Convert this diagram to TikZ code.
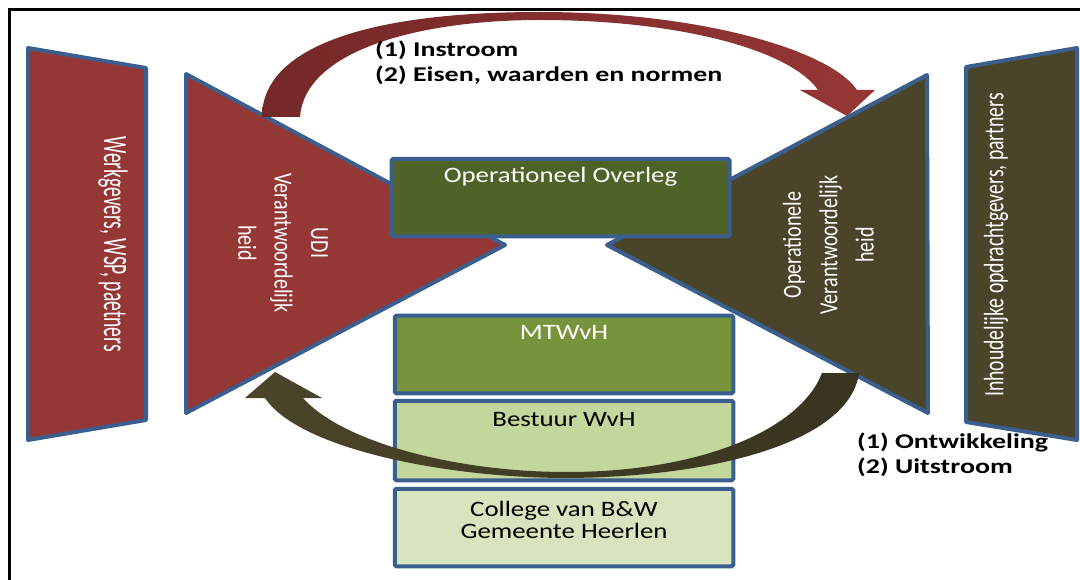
\documentclass[tikz,border=0pt]{standalone}
\usepackage{fontspec}
\setmainfont{Carlito}
\usepackage{graphicx}

\definecolor{randblauw}{HTML}{3A5F8E}
\definecolor{udirood}{HTML}{953735}
\definecolor{olijf}{HTML}{4A452A}
\definecolor{overleggroen}{HTML}{4F6228}
\definecolor{mtgroen}{HTML}{77933C}
\definecolor{bestuurgroen}{HTML}{C3D69B}
\definecolor{collegegroen}{HTML}{D7E4BD}
\definecolor{pijlroodd}{HTML}{742828}
\definecolor{pijlolijfd}{HTML}{38341F}

% horizontaal / verticaal uitrekken van tekst
\newcommand{\breed}[2]{\scalebox{#1}[1]{#2}}
\newcommand{\hoog}[2]{\scalebox{1}[#1]{#2}}

\begin{document}
\begin{tikzpicture}[x=1pt,y=-1pt,
    rand/.style={draw=randblauw, line width=4pt, line join=round},
    kader/.style={draw=randblauw, line width=4pt, rounded corners=1.5pt,
                  minimum width=338.5, minimum height=77.5, inner sep=0pt},
    boxtekst/.style={font=\fontsize{22}{22}\selectfont, inner sep=0pt},
    vettekst/.style={font=\fontsize{21}{24}\selectfont\bfseries, anchor=base west, inner sep=0pt}]
    \useasboundingbox (0,0) rectangle (1080,580);

    % kader
    \draw[line width=3pt] (1080,10) -- (9,10) -- (9,580);

    % buitenste vlakken
    \filldraw[rand, fill=udirood] (28,48) -- (146,68) -- (146,420) -- (28,440) -- cycle;
    \filldraw[rand, fill=olijf] (966,67) -- (1077,48) -- (1077,440) -- (966,422) -- cycle;

    % driehoeken
    \filldraw[rand, fill=udirood] (186,74) -- (505,245) -- (186,413) -- cycle;
    \filldraw[rand, fill=olijf] (927,75) -- (607,245) -- (928,413) -- cycle;

    % overleg en lagen in het midden
    \node[kader, fill=overleggroen, minimum width=338] (overleg) at (560.5,197.75) {};
    \node[kader, fill=mtgroen] (mtwvh) at (564,354.5) {};
    \node[kader, fill=bestuurgroen, minimum height=79.5] (bestuur) at (564,440.5) {};
    \node[kader, fill=collegegroen] (college) at (564,527.5) {};

    \node[boxtekst, text=white] (overlegtekst) at ([yshift=-20]overleg.north) {\breed{1.22}{Operationeel Overleg}};
    \node[boxtekst, text=white] (mtwvhtekst) at ([yshift=-19]mtwvh.north) {\breed{1.22}{MTWvH}};
    \node[boxtekst] (bestuurtekst) at ([yshift=-21]bestuur.north) {\breed{1.22}{Bestuur WvH}};
    \node[boxtekst] (collegetekst) at ([yshift=4]college.center)
        {\breed{1.22}{\begin{tabular}{@{}c@{}}College van B\&W\\Gemeente Heerlen\end{tabular}}};

    % pijl boven: instroom
    \shade[left color=pijlroodd, right color=udirood]
        (262,117) .. controls (262,50) and (360,12) .. (540,12)
        .. controls (700,12) and (830,50) .. (857,90)
        -- (875,90) -- (847,116) -- (800,90) -- (818,90)
        .. controls (790,50) and (680,20) .. (540,20)
        .. controls (420,20) and (305,50) .. (300,117) -- cycle;

    % pijl onder: ontwikkeling / uitstroom
    \shade[left color=olijf, right color=pijlolijfd]
        (859,373) .. controls (850,440) and (720,477) .. (567,478)
        .. controls (450,478) and (300,450) .. (265,398)
        -- (245,398) -- (275,372) -- (322,398) -- (303,398)
        .. controls (340,440) and (450,472) .. (567,472)
        .. controls (700,472) and (800,430) .. (822,373) -- cycle;

    % teksten in de vlakken
    \node[rotate=-90, text=white, font=\fontsize{19.5}{22}\selectfont] (werkgevers) at (113,244)
        {\hoog{1.75}{Werkgevers, WSP, paetners}};
    \node[rotate=-90, text=white, font=\fontsize{20}{28}\selectfont] (udi) at (282,243)
        {\hoog{1.3}{\begin{tabular}{@{}c@{}}UDI\\Verantwoordelijk\\heid\end{tabular}}};
    \node[rotate=90, text=white, font=\fontsize{20}{28}\selectfont] (operationeel) at (830,245)
        {\hoog{1.3}{\begin{tabular}{@{}c@{}}Operationele\\Verantwoordelijk\\heid\end{tabular}}};
    \node[rotate=90, text=white, font=\fontsize{19.7}{22}\selectfont] (inhoud) at (996,245)
        {\hoog{1.42}{Inhoudelijke opdrachtgevers, partners}};

    % stromen
    \node[vettekst] (instroom) at (375,57) {\breed{1.33}{(1) Instroom}};
    \node[vettekst] (eisen) at (375,82) {\breed{1.33}{(2) Eisen, waarden en normen}};
    \node[vettekst] (ontwikkeling) at (857,448) {\breed{1.33}{(1) Ontwikkeling}};
    \node[vettekst] (uitstroom) at (857,473) {\breed{1.33}{(2) Uitstroom}};
\end{tikzpicture}
\end{document}
